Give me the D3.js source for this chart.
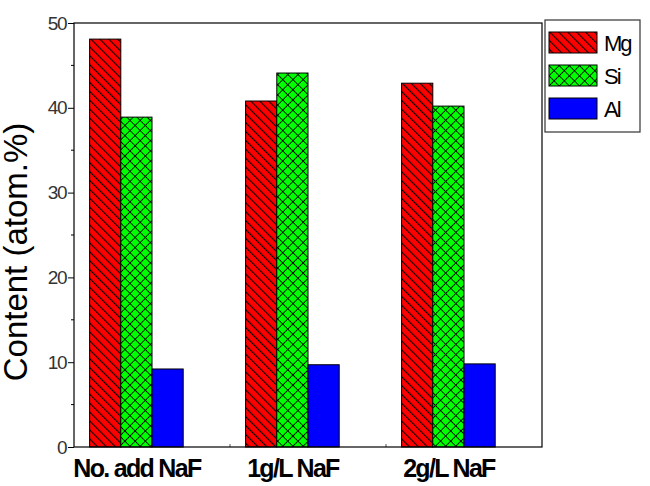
<!DOCTYPE html>
<html>
<head>
<meta charset="utf-8">
<script src="https://cdn.jsdelivr.net/npm/d3@7"></script>
<style>
  body { margin: 0; background: #fff; }
  svg { display: block; font-family: "Liberation Sans", Arial, sans-serif; }
</style>
</head>
<body>
<div id="chart"></div>
<script>
// EDS content per NaF addition
const categories = ["No. add NaF", "1g/L NaF", "2g/L NaF"];
const elements = ["Mg", "Si", "Al"];
const mgValues = [48.1, 40.8, 42.9];
const siValues = [38.9, 44.1, 40.2];
const alValues = [9.2, 9.7, 9.8];
const yTicks = [0, 10, 20, 30, 40, 50];

const series = [
  { name: "Mg", values: mgValues, fill: "url(#hatchMg)" },
  { name: "Si", values: siValues, fill: "url(#hatchSi)" },
  { name: "Al", values: alValues, fill: "#0000ff" }
];

const W = 650, H = 486;
const margin = { top: 23, right: 108, bottom: 39, left: 74 };
const innerWidth = W - margin.left - margin.right;
const innerHeight = H - margin.top - margin.bottom;

const svg = d3.select("#chart").append("svg").attr("width", W).attr("height", H);
const defs = svg.append("defs");

// red with backslash hatching
const pMg = defs.append("pattern").attr("id", "hatchMg").attr("patternUnits", "userSpaceOnUse")
  .attr("width", 6.3).attr("height", 6.3).attr("patternTransform", "rotate(-45)");
pMg.append("rect").attr("width", 6.3).attr("height", 6.3).attr("fill", "#ff0000");
pMg.append("line").attr("x1", 0).attr("y1", 0).attr("x2", 0).attr("y2", 6.3)
  .attr("stroke", "#000").attr("stroke-width", 2.2);

// green with cross hatching
const pSi = defs.append("pattern").attr("id", "hatchSi").attr("patternUnits", "userSpaceOnUse")
  .attr("width", 7.2).attr("height", 7.2).attr("patternTransform", "rotate(45)");
pSi.append("rect").attr("width", 7.2).attr("height", 7.2).attr("fill", "#00ff00");
pSi.append("line").attr("x1", 0).attr("y1", 0).attr("x2", 0).attr("y2", 7.2)
  .attr("stroke", "#000").attr("stroke-width", 1.7);
pSi.append("line").attr("x1", 0).attr("y1", 0).attr("x2", 7.2).attr("y2", 0)
  .attr("stroke", "#000").attr("stroke-width", 1.7);

const chart = svg.append("g").attr("transform", `translate(${margin.left},${margin.top})`);

const x = d3.scaleLinear().domain([0.6, 3.6]).range([0, innerWidth]);
const y = d3.scaleLinear().domain([0, 50]).range([innerHeight, 0]);
const barW = 0.2;

// bars
series.forEach((s, j) => {
  chart.append("g").selectAll("rect").data(s.values).enter().append("rect")
    .attr("x", (d, i) => x(i + 1 - 0.3 + j * barW))
    .attr("width", x(0.6 + barW) - x(0.6))
    .attr("y", d => y(d))
    .attr("height", d => y(0) - y(d))
    .attr("fill", s.fill)
    .attr("stroke", "#000").attr("stroke-width", 1);
});

// left axis
const yAxis = chart.append("g")
  .call(d3.axisLeft(y).tickValues(yTicks).tickSize(6).tickPadding(2));
yAxis.select(".domain").remove();
yAxis.selectAll("text").attr("font-size", 19).attr("fill", "#333").attr("letter-spacing", -1.5);
chart.append("g").selectAll("line").data([5, 15, 25, 35, 45]).enter().append("line")
  .attr("x1", -3).attr("x2", 0).attr("y1", d => y(d)).attr("y2", d => y(d))
  .attr("stroke", "#000");

// bottom axis
const xAxis = chart.append("g").attr("transform", `translate(0,${innerHeight})`)
  .call(d3.axisBottom(x).tickValues([1, 2, 3]).tickSize(0).tickPadding(12)
    .tickFormat((d, i) => categories[i]));
xAxis.select(".domain").remove();
xAxis.selectAll("text").attr("font-size", 25).attr("font-weight", "bold")
  .attr("fill", "#000").attr("letter-spacing", -1.7);
chart.append("g").selectAll("line").data([1.6, 2.6]).enter().append("line")
  .attr("x1", d => x(d)).attr("x2", d => x(d)).attr("y1", innerHeight).attr("y2", innerHeight - 3)
  .attr("stroke", "#555");

// frame
chart.append("rect").attr("width", innerWidth).attr("height", innerHeight)
  .attr("fill", "none").attr("stroke", "#000").attr("stroke-width", 1.2);

// y title
svg.append("text")
  .attr("transform", "translate(27,252) rotate(-90)")
  .attr("text-anchor", "middle").attr("font-size", 33)
  .text("Content (atom.%)");

// legend
const legend = svg.append("g").attr("transform", "translate(545,20)");
legend.append("rect").attr("width", 95).attr("height", 112)
  .attr("fill", "#fff").attr("stroke", "#333").attr("stroke-width", 1.2);
series.forEach((s, j) => {
  const g = legend.append("g").attr("transform", `translate(4,${12 + j * 33})`);
  g.append("rect").attr("width", 48).attr("height", 21)
    .attr("fill", s.fill).attr("stroke", "#000");
  g.append("text").attr("x", 55).attr("y", 19).attr("font-size", 22)
    .attr("letter-spacing", -2).text(elements[j]);
});
</script>
</body>
</html>
